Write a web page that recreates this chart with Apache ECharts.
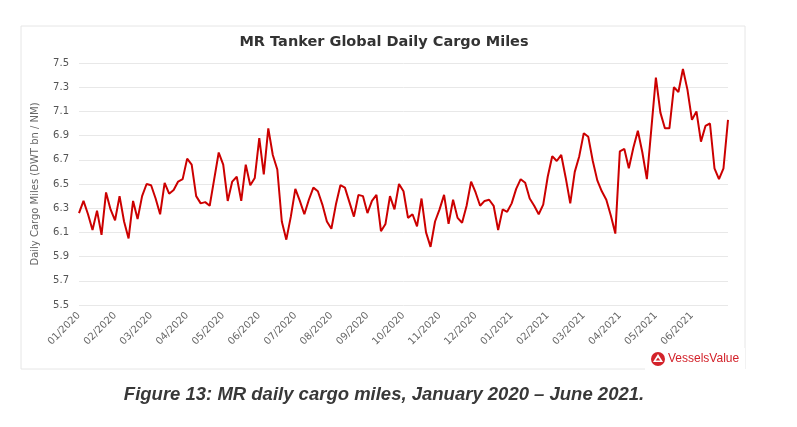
<!DOCTYPE html>
<html>
<head>
<meta charset="utf-8">
<script src="https://cdn.jsdelivr.net/npm/echarts@6/dist/echarts.min.js"></script>
<style>
  html, body { margin: 0; padding: 0; background: #fff; }
  #chart { width: 797px; height: 427px; }
</style>
</head>
<body>
<div id="chart"></div>
<script>
// x axis: months from 01/2020, one label per month start
const monthLabels = [
  '01/2020', '02/2020', '03/2020', '04/2020', '05/2020', '06/2020',
  '07/2020', '08/2020', '09/2020', '10/2020', '11/2020', '12/2020',
  '01/2021', '02/2021', '03/2021', '04/2021', '05/2021', '06/2021'
]

// readings taken every 1/8 of a month, Jan 2020 -> end of Jun 2021
const STEPS_PER_MONTH = 8
const cargoMiles = [
  6.26, 6.36, 6.25, 6.12, 6.28, 6.08, 6.43, 6.29,
  6.20, 6.40, 6.19, 6.05, 6.36, 6.21, 6.40, 6.50,
  6.49, 6.38, 6.25, 6.51, 6.42, 6.45, 6.52, 6.54,
  6.71, 6.66, 6.40, 6.34, 6.35, 6.32, 6.54, 6.76,
  6.66, 6.36, 6.52, 6.56, 6.36, 6.66, 6.49, 6.55,
  6.88, 6.58, 6.96, 6.74, 6.62, 6.19, 6.04, 6.23,
  6.46, 6.36, 6.25, 6.37, 6.47, 6.44, 6.33, 6.19,
  6.13, 6.33, 6.49, 6.47, 6.35, 6.23, 6.41, 6.40,
  6.26, 6.36, 6.41, 6.11, 6.17, 6.40, 6.29, 6.50,
  6.44, 6.22, 6.25, 6.15, 6.38, 6.10, 5.98, 6.19,
  6.29, 6.41, 6.17, 6.37, 6.22, 6.18, 6.32, 6.52,
  6.43, 6.32, 6.36, 6.37, 6.32, 6.12, 6.29, 6.27,
  6.34, 6.46, 6.54, 6.51, 6.38, 6.32, 6.25, 6.33,
  6.56, 6.73, 6.69, 6.74, 6.55, 6.34, 6.60, 6.73,
  6.92, 6.89, 6.69, 6.53, 6.44, 6.37, 6.24, 6.09,
  6.77, 6.79, 6.63, 6.80, 6.94, 6.76, 6.54, 6.96,
  7.38, 7.09, 6.96, 6.96, 7.30, 7.26, 7.45, 7.28,
  7.03, 7.10, 6.85, 6.98, 7.00, 6.63, 6.54, 6.63,
  7.03
]

const TITLE_TEXT = 'MR Tanker Global Daily Cargo Miles'
const Y_AXIS_NAME = 'Daily Cargo Miles (DWT bn / NM)'
const CAPTION_TEXT = 'Figure 13: MR daily cargo miles, January 2020 \u2013 June 2021.'
const BRAND_RED = '#d3222a'

const chart = echarts.init(document.getElementById('chart'))

chart.setOption({
  animation: false,
  grid: {
    left: 79,
    right: 69,
    top: 63,
    bottom: 122
  },
  xAxis: {
    type: 'value',
    min: 0,
    max: monthLabels.length,
    interval: 1,
    axisLine: { show: false },
    axisTick: { show: false },
    splitLine: { show: false },
    axisLabel: {
      rotate: 45,
      margin: 9,
      fontSize: 10,
      fontFamily: 'DejaVu Sans',
      color: '#666',
      formatter: (value) => monthLabels[value] || ''
    }
  },
  yAxis: {
    type: 'value',
    min: 5.5,
    max: 7.5,
    interval: 0.2,
    name: Y_AXIS_NAME,
    nameLocation: 'middle',
    nameGap: 39,
    nameTextStyle: {
      fontSize: 10,
      fontFamily: 'DejaVu Sans',
      color: '#666'
    },
    axisLine: { show: false },
    axisTick: { show: false },
    axisLabel: {
      margin: 10,
      fontSize: 10,
      fontFamily: 'DejaVu Sans',
      color: '#555',
      formatter: (value) => value.toFixed(1)
    },
    splitLine: {
      lineStyle: { color: '#e8e8e8', width: 1 }
    }
  },
  series: [{
    type: 'line',
    data: cargoMiles.map((v, i) => [i / STEPS_PER_MONTH, v]),
    showSymbol: false,
    lineStyle: { color: '#cc0000', width: 2 }
  }],
  graphic: [
    {
      type: 'rect',
      z: -10,
      shape: { x: 21, y: 26, width: 724, height: 343 },
      style: { fill: '#fff', stroke: '#e6e6e6', lineWidth: 1 }
    },
    {
      type: 'text',
      x: 384,
      y: 42,
      style: {
        text: TITLE_TEXT,
        fontSize: 14.5,
        fontWeight: 'bold',
        fontFamily: 'DejaVu Sans',
        fill: '#333',
        align: 'center',
        verticalAlign: 'middle'
      }
    },
    {
      type: 'group',
      x: 649,
      y: 350,
      children: [
        {
          type: 'rect',
          shape: { x: -4, y: -2, width: 100, height: 22 },
          style: { fill: '#fff' }
        },
        {
          type: 'circle',
          shape: { cx: 9, cy: 9, r: 7 },
          style: { fill: BRAND_RED }
        },
        {
          type: 'polygon',
          shape: { points: [[9, 4], [14, 12], [4, 12]] },
          style: { fill: '#fff' }
        },
        {
          type: 'polygon',
          shape: { points: [[9, 7.5], [11.3, 10.5], [6.7, 10.5]] },
          style: { fill: BRAND_RED }
        },
        {
          type: 'text',
          x: 19,
          y: 9,
          style: {
            text: 'VesselsValue',
            fontSize: 12,
            fontFamily: 'Liberation Sans',
            fill: BRAND_RED,
            verticalAlign: 'middle'
          }
        }
      ]
    },
    {
      type: 'text',
      x: 384,
      y: 395,
      style: {
        text: CAPTION_TEXT,
        fontSize: 18.5,
        fontWeight: 'bold',
        fontStyle: 'italic',
        fontFamily: 'Liberation Sans',
        fill: '#383838',
        align: 'center',
        verticalAlign: 'middle'
      }
    }
  ]
})
</script>
</body>
</html>
